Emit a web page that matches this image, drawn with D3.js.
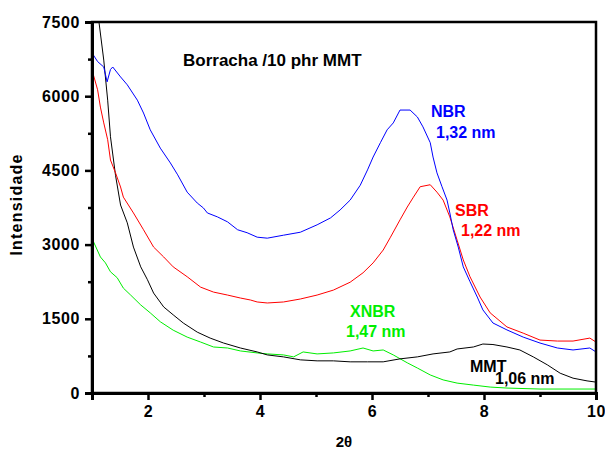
<!DOCTYPE html>
<html>
<head>
<meta charset="utf-8">
<script src="https://cdn.jsdelivr.net/npm/d3@7"></script>
<style>
  body { margin: 0; background: #fff; }
  text { font-family: "Liberation Sans", Arial, sans-serif; font-weight: bold; }
</style>
</head>
<body>
<script>
// values: [2theta, intensity]
const nbr = [[1.0,6875],[1.1,6700],[1.21,6590],[1.27,6290],[1.33,6540],[1.37,6590],[1.51,6390],[1.63,6230],
  [1.81,5920],[1.92,5660],[2.04,5320],[2.22,4950],[2.40,4650],[2.53,4410],[2.70,4060],[2.88,3840],[2.99,3740],
  [3.06,3640],[3.24,3560],[3.42,3460],[3.60,3300],[3.77,3240],[3.95,3150],[4.13,3130],[4.42,3190],[4.72,3250],
  [5.02,3400],[5.26,3540],[5.43,3700],[5.61,3900],[5.79,4200],[5.92,4510],[6.02,4770],[6.15,5060],[6.27,5320],
  [6.38,5460],[6.50,5720],[6.68,5720],[6.81,5580],[6.91,5380],[7.04,5060],[7.09,4770],[7.16,4450],[7.25,4170],
  [7.34,3900],[7.39,3640],[7.45,3300],[7.54,2950],[7.63,2550],[7.75,2250],[7.88,1940],[7.98,1680],[8.16,1415],
  [8.41,1275],[8.70,1130],[9.00,1010],[9.31,910],[9.59,870],[9.89,910],[10.0,830]];

const sbr = [[1.0,6530],[1.10,6130],[1.15,5780],[1.21,5460],[1.28,5120],[1.33,4710],[1.42,4450],[1.51,4165],
  [1.56,3960],[1.74,3640],[1.92,3300],[2.10,2950],[2.28,2750],[2.45,2550],[2.70,2350],[2.94,2140],[3.17,2040],
  [3.42,1980],[3.65,1920],[3.83,1880],[3.95,1840],[4.13,1820],[4.42,1840],[4.72,1900],[5.02,1980],[5.31,2080],
  [5.61,2240],[5.84,2430],[6.02,2630],[6.20,2890],[6.33,3150],[6.50,3500],[6.63,3760],[6.74,3960],[6.86,4170],
  [7.04,4210],[7.16,4060],[7.27,3900],[7.39,3560],[7.52,3090],[7.63,2690],[7.75,2350],[7.93,1940],[8.11,1620],
  [8.41,1335],[8.70,1210],[9.00,1070],[9.31,1050],[9.59,1050],[9.89,1110],[10.0,1030]];

const mmt = [[1.0,8570],[1.12,7540],[1.21,6730],[1.28,5920],[1.33,5180],[1.42,4400],[1.51,3800],[1.63,3440],
  [1.74,2950],[1.87,2550],[1.99,2290],[2.10,2020],[2.28,1740],[2.45,1580],[2.63,1415],[2.88,1230],[3.11,1110],
  [3.35,1010],[3.65,910],[3.95,830],[4.13,770],[4.42,730],[4.72,670],[5.02,650],[5.31,650],[5.61,630],[5.92,630],
  [6.20,630],[6.50,690],[6.81,730],[7.09,790],[7.39,830],[7.52,890],[7.81,930],[7.98,990],[8.16,980],[8.41,930],
  [8.64,870],[8.88,730],[9.13,570],[9.36,400],[9.59,300],[9.84,245],[10.0,220]];

const xnbr = [[1.0,3100],[1.03,3050],[1.15,2750],[1.24,2630],[1.33,2450],[1.45,2330],[1.56,2120],[1.69,1980],
  [1.87,1780],[2.04,1620],[2.22,1440],[2.45,1270],[2.70,1130],[2.94,1030],[3.17,930],[3.42,910],[3.65,850],
  [3.95,810],[4.13,790],[4.42,770],[4.60,730],[4.77,830],[5.02,790],[5.31,810],[5.61,850],[5.84,910],[6.02,850],
  [6.20,870],[6.38,770],[6.63,610],[6.81,505],[7.04,365],[7.27,265],[7.52,200],[7.81,160],[8.11,120],[8.41,100],
  [9.00,80],[10.0,80]];

const xMajor = [2, 4, 6, 8, 10];
const xMinor = [1, 3, 5, 7, 9];
const yMajor = [0, 1500, 3000, 4500, 6000, 7500];
const yMinor = [750, 2250, 3750, 5250, 6750];

const margin = { top: 22, right: 9, bottom: 59, left: 92 },
      width = 605 - margin.left - margin.right,
      height = 452 - margin.top - margin.bottom;

const svg = d3.select("body")
  .append("svg")
  .attr("width", 605)
  .attr("height", 452)
  .append("g")
  .attr("transform", `translate(${margin.left},${margin.top})`);

const x = d3.scaleLinear().domain([1, 10]).range([0, width]);
const y = d3.scaleLinear().domain([0, 7500]).range([height, 0]);

svg.append("clipPath").attr("id", "clip")
  .append("rect").attr("width", width).attr("height", height);

const line = d3.line().x(d => x(d[0])).y(d => y(d[1]));

const series = [
  { data: xnbr, color: "#00ee00" },
  { data: mmt, color: "#000000" },
  { data: sbr, color: "#ff0000" },
  { data: nbr, color: "#0000ff" }
];

svg.append("g").attr("clip-path", "url(#clip)")
  .selectAll("path")
  .data(series)
  .enter()
  .append("path")
  .attr("d", d => line(d.data))
  .attr("fill", "none")
  .attr("stroke", d => d.color)
  .attr("stroke-width", 1);

// frame
svg.append("rect")
  .attr("width", width).attr("height", height)
  .attr("fill", "none").attr("stroke", "#000").attr("stroke-width", 2.5);

// axes (minor ticks in their own groups, so they don't replace the major ones)
svg.append("g").attr("transform", `translate(0,${height})`)
  .call(d3.axisBottom(x).tickValues(xMinor).tickSize(4).tickFormat(""));
svg.append("g").attr("transform", `translate(0,${height})`)
  .call(d3.axisBottom(x).tickValues(xMajor).tickSize(7).tickPadding(6).tickFormat(d3.format("d")));

svg.append("g")
  .call(d3.axisLeft(y).tickValues(yMinor).tickSize(4).tickFormat(""));
svg.append("g")
  .call(d3.axisLeft(y).tickValues(yMajor).tickSize(7).tickPadding(5).tickFormat(d3.format("d")));

svg.selectAll(".domain").attr("stroke-width", 3);
svg.selectAll(".tick line").attr("stroke-width", 2.5);
svg.selectAll(".tick text")
  .style("font-size", "16px")
  .style("font-weight", "bold")
  .style("letter-spacing", "0.6px")
  .style("font-family", "'Liberation Sans', Arial, sans-serif")
  .attr("fill", "#000");

// axis titles
svg.append("text")
  .attr("x", x(5.5)).attr("y", height + 54)
  .attr("text-anchor", "middle")
  .style("font-size", "15px")
  .text("2θ");

svg.append("text")
  .attr("transform", `translate(${-70},${height / 2 - 3}) rotate(-90)`)
  .attr("text-anchor", "middle")
  .style("font-size", "16px")
  .style("letter-spacing", "1.2px")
  .text("Intensidade");

// annotations
const notes = [
  { t: "Borracha /10 phr MMT", x: 91, y: 44, c: "#000", s: 17 },
  { t: "NBR", x: 339, y: 95, c: "#0000ff", s: 16 },
  { t: "1,32 nm", x: 344, y: 116, c: "#0000ff", s: 16 },
  { t: "SBR", x: 363, y: 194, c: "#ff0000", s: 16 },
  { t: "1,22 nm", x: 369, y: 214, c: "#ff0000", s: 16 },
  { t: "XNBR", x: 258, y: 295, c: "#00ee00", s: 16 },
  { t: "1,47 nm", x: 254, y: 315, c: "#00ee00", s: 16 },
  { t: "MMT", x: 378, y: 350, c: "#000", s: 16 },
  { t: "1,06 nm", x: 403, y: 362, c: "#000", s: 16 }
];

svg.append("g")
  .selectAll("text")
  .data(notes)
  .enter()
  .append("text")
  .attr("x", d => d.x)
  .attr("y", d => d.y)
  .attr("fill", d => d.c)
  .style("font-size", d => `${d.s}px`)
  .text(d => d.t);
</script>
</body>
</html>
